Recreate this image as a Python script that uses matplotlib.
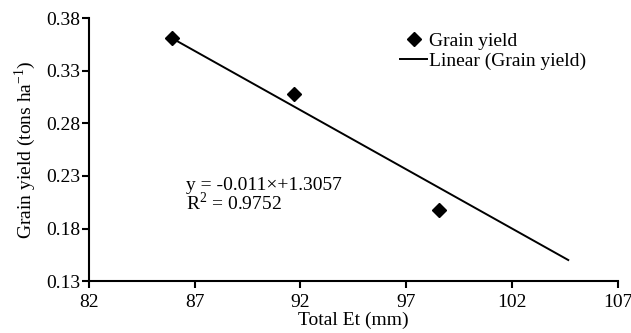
import matplotlib.pyplot as plt
import numpy as np

plt.rcParams['font.family'] = ['Liberation Serif', 'DejaVu Serif']
plt.rcParams['mathtext.fontset'] = 'custom'
plt.rcParams['mathtext.rm'] = 'Liberation Serif'

# data
total_et = [85.93, 91.67, 98.53]
grain_yield = [0.361, 0.308, 0.198]

# trendline end points
trend_x = [85.93, 104.66]
trend_y = [0.361, 0.150]

x_ticks = [82, 87, 92, 97, 102, 107]
y_ticks = [0.13, 0.18, 0.23, 0.28, 0.33, 0.38]

fig = plt.figure(figsize=[6.31, 3.33], dpi=100)
ax = fig.add_axes([0.141, 0.156, 0.838, 0.789])

ax.plot(trend_x, trend_y, c='black', lw=1.4, label='Linear (Grain yield)')
ax.plot(total_et, grain_yield, c='black', marker='D', ms=7, linestyle='none',
        label='Grain yield', zorder=3)

ax.set_xlim(82, 107)
ax.set_ylim(0.13, 0.38)
ax.set_xticks(x_ticks)
ax.set_yticks(y_ticks)
ax.set_xticklabels([str(t) for t in x_ticks])
ax.set_yticklabels(['%.2f' % t for t in y_ticks])
ax.tick_params(direction='out', length=5, width=1.5, labelsize=14)
ax.tick_params(axis='x', pad=4)
ax.tick_params(axis='y', pad=1)
for s in ['top', 'right']:
    ax.spines[s].set_visible(False)
for s in ['left', 'bottom']:
    ax.spines[s].set_linewidth(1.5)

ax.set_xlabel('Total Et (mm)', fontsize=14, labelpad=1)
ax.set_ylabel(r'Grain yield (tons ha$^{\mathregular{-1}}$)', fontsize=14, labelpad=6)

ax.text(86.6, 0.221, 'y = -0.011\u00d7+1.3057', fontsize=14, va='center')
ax.text(86.6, 0.204, r'R$^{\mathregular{2}}$ = 0.9752', fontsize=14, va='center')

h, l = ax.get_legend_handles_labels()
ax.legend(h[::-1], l[::-1], loc='upper left', bbox_to_anchor=(400 / 631, 1 - 32 / 333),
          bbox_transform=fig.transFigure, frameon=False, fontsize=14,
          handlelength=1.4, handletextpad=0.1, borderpad=0, borderaxespad=0,
          labelspacing=0.15)

plt.savefig('out.png', dpi=100)
plt.close(fig)
